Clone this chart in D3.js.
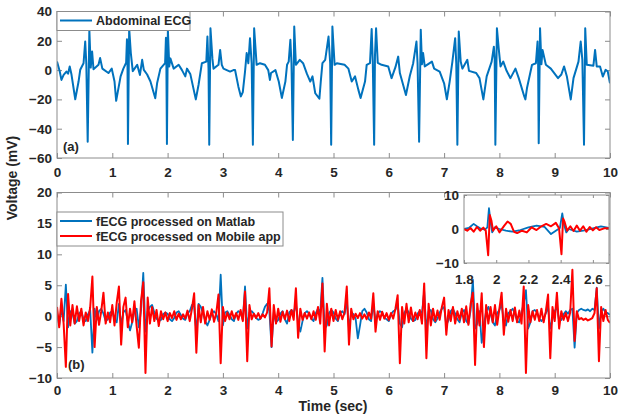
<!DOCTYPE html>
<html>
<head>
<meta charset="utf-8">
<script src="https://cdnjs.cloudflare.com/ajax/libs/d3/7.8.5/d3.min.js"></script>
<style>
body{margin:0;background:#fff;}
svg text{font-family:"Liberation Sans",Arial,sans-serif;font-weight:bold;fill:#262626;}
</style>
</head>
<body>
<svg id="chart" width="618" height="414"></svg>
<script>

// (a) abdominal ECG, [time (s), mV] vertices
let abdominal = [
[0,5.8],[0.05,-1],[0.08,-6.7],[0.12,-3.3],[0.17,-1],[0.2,-2.5],[0.23,2.5],[0.26,-2.6],[0.33,-19.9],[0.39,-7.8],[0.42,0.2],[0.48,4.7],[0.51,19.5],[0.53,4.7],[0.555,-48.9],[0.585,27.5],[0.61,1.7],[0.635,12.7],[0.66,0.6],[0.75,3.6],[0.78,8.2],[0.82,1],[0.93,-2],[0.99,1],
[1.04,-7.8],[1.07,-21],[1.15,-4.3],[1.2,1],[1.25,5],[1.265,21],[1.275,3],[1.283,-50.5],[1.305,28.6],[1.335,11.6],[1.37,-0.7],[1.45,3.6],[1.5,-3.3],[1.54,7],[1.57,0.2],[1.63,-3],[1.69,-7.8],[1.777,-19.2],[1.81,-9],[1.87,1],[1.955,4.7],[1.97,22],[1.978,4],[1.988,-50.5],
[2.005,27.5],[2.03,2.5],[2.05,8],[2.11,1],[2.2,3.6],[2.26,0],[2.32,-4.3],[2.35,1],[2.41,-2.6],[2.51,-20],[2.56,-10],[2.62,4.7],[2.7,5.8],[2.72,22.9],[2.74,1],[2.753,-51],[2.775,28.6],[2.81,8],[2.83,1],[2.92,3.6],[2.95,13.8],[2.98,3.6],
[3.01,1],[3.13,-1],[3.19,0],[3.22,0.1],[3.28,-11.3],[3.325,-18],[3.36,-15],[3.4,-1],[3.43,11.6],[3.46,4.7],[3.49,21.8],[3.52,4.7],[3.542,-51],[3.565,28.6],[3.61,3.6],[3.67,4.7],[3.76,3.6],[3.82,0],[3.85,-6.7],[3.87,-2],[3.95,0],
[4.01,-7.8],[4.066,-19],[4.13,-7.8],[4.16,3.6],[4.19,5.8],[4.22,20.7],[4.24,4.7],[4.265,-47.7],[4.29,29.7],[4.32,3.6],[4.39,7],[4.45,4.7],[4.52,-2.6],[4.58,-7.8],[4.62,-4.3],[4.67,-15.8],[4.745,-19.5],[4.77,-7.8],[4.8,4.7],[4.85,7],[4.91,22.9],[4.94,4.7],[4.958,-51],[4.98,29.7],
[5.02,3.6],[5.06,4.7],[5.2,3.6],[5.27,1],[5.33,-7.8],[5.39,-4.3],[5.45,-13.5],[5.49,-19],[5.57,-7.8],[5.6,3.6],[5.66,4.7],[5.69,28],[5.71,6],[5.735,-51],[5.75,10],[5.77,28.6],[5.8,5],[5.87,3.6],[5.99,2.5],
[6.05,-5.5],[6.12,2],[6.17,9.2],[6.2,-2],[6.31,-17],[6.38,-4],[6.44,4.5],[6.5,19.5],[6.52,5],[6.548,-48.9],[6.578,27.5],[6.6,4],[6.62,11.6],[6.65,2.5],[6.78,5.8],[6.82,1],[6.92,-1],
[7.0,-9],[7.05,-19.9],[7.1,-8],[7.15,5.8],[7.2,21.8],[7.22,4.5],[7.24,-51],[7.265,26.3],[7.3,5.8],[7.33,1],[7.37,3.6],[7.42,7],[7.45,-0.5],[7.58,-2],[7.64,-5.5],[7.71,-20],[7.77,-4.3],[7.86,5.8],[7.9,16],[7.915,7],[7.927,-51],[7.955,28.6],[7.99,13.8],
[8.02,2.5],[8.07,5.8],[8.13,-0.5],[8.2,-5.5],[8.29,1],[8.35,-5.5],[8.45,-18],[8.47,-20],[8.5,-12],[8.59,3.6],[8.66,4.7],[8.69,19.5],[8.7,5],[8.711,-50],[8.735,28.6],[8.76,4],[8.78,13.8],[8.84,3.6],[8.93,1],
[9.06,-5.5],[9.12,-3],[9.17,2.5],[9.22,-4.3],[9.29,-20],[9.34,-5.5],[9.43,5.8],[9.47,19.5],[9.5,7],[9.53,-51],[9.552,28.6],[9.58,3.6],[9.7,3],[9.73,13.8],[9.76,2.5],[9.82,2.5],[9.87,-4.4],[9.92,0.2],[9.96,-1],[10,-9]
]

// (b) fetal ECG, sampled at fs Hz (one row per second)
let fs = 25
let fecg_matlab = [
0.5,-1.5,1.2,-0.8,5.1,-1.8,0.8,0.5,-1.2,-0.8,0.4,0.8,-0.5,-0.8,0.3,1.0,-5.9,1.2,-0.6,0.8,1.2,0.4,-0.8,-0.5,0.6,
0.8,-0.6,-1.0,2.0,-1.5,0.6,1.0,-0.8,-2.3,-1.0,0.8,1.2,-1.8,1.0,7.0,-2.5,0.8,1.5,1.8,0.6,-0.4,-0.8,-0.6,0.3,0.6,
0.4,-0.5,-0.8,-0.3,0.6,0.8,0.2,-0.4,-0.6,0.5,0.8,1.8,1.5,-2.5,2.0,1.5,0.5,-0.8,-1.5,-0.6,0.5,0.8,0.3,-0.8,6.7,
-1.5,0.6,0.8,0.2,-0.5,-0.8,0.4,0.8,0.5,-0.6,4.8,-2.0,0.6,0.8,0.4,-0.3,-0.6,-0.4,0.5,1.5,2.0,0.8,-5.0,0.6,-1.0,
-0.6,0.4,0.8,-0.5,-1.2,0.6,1.0,0.5,2.0,-1.0,-2.5,-0.8,0.5,0.8,0.4,-0.4,-0.8,0.5,1.2,0.6,6.2,-2.0,-1.5,0.5,1.0,
0.6,-0.4,-0.8,0.5,0.8,0.3,2.5,-2.0,0.6,0.3,-0.4,-3.6,-1.5,0.8,1.2,0.6,-0.5,-0.8,2.0,-0.8,0.4,0.8,0.6,-0.3,-0.5,
-0.8,0.3,0.8,1.0,2.0,-1.2,-1.8,0.5,1.2,0.6,-0.4,-0.8,-0.6,0.4,0.8,0.5,4.0,-2.5,0.8,1.0,-0.5,-1.0,-0.4,0.6,1.2,
1.5,-1.5,-0.6,0.8,1.2,0.4,-0.5,-1.0,0.6,1.0,-0.8,-1.2,1.0,5.9,-2.0,-1.2,0.8,-4.3,-1.5,0.8,1.5,0.4,-1.0,-1.5,0.5,
1.0,2.0,-1.0,-1.5,0.5,0.8,1.2,0.4,-0.8,-1.0,0.6,2.0,4.2,-2.0,-1.0,0.8,1.0,0.6,-0.4,-0.8,-0.3,0.5,1.5,-2.0,-0.5,
0.8,1.5,-0.8,-0.6,0.3,0.8,0.4,1.0,1.2,-5.1,0.5,1.0,1.2,1.0,0.9,1.1,0.8,1.2,1.0,4.6,-2.0,0.8,1.2,0.6,0.5,
0.2]

let fecg_mobile = [
1.5,-1.8,2.8,-1.2,-8.2,3.6,-1.5,1.8,-1.2,1.6,-0.8,1.2,-1.5,0.6,-0.8,1.4,6.4,-5.0,1.5,-1.4,0.8,3.8,-1.2,0.6,-1.0,
1.8,-1.5,2.2,4.8,-4.6,1.5,3.0,-1.8,1.2,-1.0,2.4,-1.6,-5.1,2.5,5.5,-9.2,3.0,-1.2,1.5,-0.8,1.0,-1.6,0.8,-0.5,0.6,
-0.8,0.5,-0.3,0.8,-0.6,0.4,-0.5,0.3,-0.4,0.9,-0.8,1.2,3.7,-5.9,1.8,-1.0,1.5,-1.2,0.8,-0.6,1.1,-0.9,0.5,3.5,-7.6,
1.5,-0.8,0.6,-0.5,0.8,-0.4,0.5,-0.6,1.0,-0.8,4.0,-7.3,1.8,-0.5,0.4,-0.3,0.5,-0.4,0.3,-0.2,0.6,4.5,-4.9,1.8,-1.2,
1.2,-0.9,0.7,-0.5,0.9,-0.8,1.0,-0.6,4.5,-3.5,1.2,-0.6,0.5,-0.4,0.6,-0.5,0.8,-0.6,1.5,-1.2,5.3,-5.7,2.0,-1.5,1.2,
-0.8,1.0,-0.6,0.8,-0.5,0.6,4.8,-4.6,1.2,-0.5,0.4,-0.3,0.5,-0.4,0.3,-0.5,0.6,-0.4,3.7,-2.5,0.8,-0.6,0.7,-0.4,0.5,
-0.6,0.5,-0.4,1.2,3.4,-7.6,1.5,-1.2,2.0,-1.0,1.4,-0.8,0.6,-0.5,1.0,-1.2,5.3,-6.8,2.0,-1.5,1.2,-0.8,0.9,-0.6,1.5,
3.0,-3.0,1.0,-0.8,1.5,-1.2,0.8,-0.6,1.2,-1.0,1.6,-1.4,2.0,3.8,-7.9,2.0,-1.5,3.7,-5.0,1.8,-1.2,1.5,-1.0,1.8,-1.4,
1.2,3.8,-3.0,1.2,-0.9,1.0,-0.8,1.4,-1.0,0.9,-1.2,4.8,-9.2,1.8,-1.0,0.8,-0.6,1.0,-0.8,1.2,-1.0,0.8,3.5,-6.8,1.5,
-0.8,3.8,-2.0,0.8,-0.6,0.5,-0.8,0.6,7.5,-4.0,0.8,-0.5,-0.3,-0.6,-0.4,-0.7,-0.5,-0.3,0.5,4.5,-7.3,1.5,-0.8,1.0,-0.6,
-1.1]

// zoomed inset 1.8 - 2.7 s
let inset_matlab = [
[1.8,0],[1.83,0.3],[1.86,1.5],[1.88,0.8],[1.9,0.2],[1.93,-0.2],[1.945,0.5],[1.955,6.1],[1.965,2],[1.975,-1],[1.99,0.5],[2.02,0],[2.06,-0.5],[2.1,-0.8],[2.15,-0.3],[2.2,0.5],[2.25,1.0],[2.3,0.6],[2.34,-1.5],[2.37,-0.5],[2.395,0.3],[2.41,4.6],[2.42,1.5],[2.435,-1],[2.45,0],[2.5,-0.8],[2.55,-0.4],[2.6,0.2],[2.65,0.8],[2.7,0.3]
]
let inset_mobile = [
[1.8,0],[1.82,-0.5],[1.84,0.3],[1.86,-0.8],[1.88,0.6],[1.9,-0.5],[1.92,0.4],[1.935,-0.5],[1.95,-7.7],[1.96,4.1],[1.97,2.5],[1.98,-0.5],[2.0,0.8],[2.02,-1.0],[2.05,1.0],[2.07,2.2],[2.09,1.5],[2.11,-0.8],[2.13,-1.2],[2.16,-0.5],[2.19,-1.0],[2.22,0.5],[2.25,-0.3],[2.28,0.8],[2.31,1.5],[2.34,0.8],[2.37,1.8],[2.39,0.2],[2.405,-7.4],[2.415,3.1],[2.425,2],[2.44,-0.5],[2.46,0.8],[2.48,-0.6],[2.5,1.0],[2.52,-0.5],[2.54,0.8],[2.56,-0.8],[2.58,0.6],[2.6,-0.4],[2.62,0.5],[2.64,-0.3],[2.67,0.2],[2.7,0.2]
]

let time_ticks = [0,1,2,3,4,5,6,7,8,9,10]
let volt_ticks_a = [-60,-40,-20,0,20,40]
let volt_ticks_b = [-10,-5,0,5,10,15,20]
let inset_time_ticks = [1.8,2,2.2,2.4,2.6]
let inset_volt_ticks = [-10,0,10]
let legend_a = ['Abdominal ECG']
let legend_b = ['fECG processed on Matlab','fECG processed on Mobile app']

let blue = '#0072BD'
let red = '#FF0000'
let box_color = '#8c8c8c'

let svg = d3.select('#chart')

let matlab_pts = fecg_matlab.map((v,i) => [i/fs, v])
let mobile_pts = fecg_mobile.map((v,i) => [i/fs, v])


function drawPanel(id, box, xdom, ydom, xticks, yticks, opts){

let x = d3.scaleLinear().domain(xdom).range([box.l, box.r])
let y = d3.scaleLinear().domain(ydom).range([box.b, box.t])

let g = svg.append('g').attr('id', id)

g.append('rect')
.attr('x', box.l).attr('y', box.t)
.attr('width', box.r - box.l).attr('height', box.b - box.t)
.attr('fill', 'white')

g.append('clipPath').attr('id', 'clip_' + id)
.append('rect')
.attr('x', box.l).attr('y', box.t)
.attr('width', box.r - box.l).attr('height', box.b - box.t)

let fmt = opts.fmt || (d => d)

let ax = [
  d3.axisBottom(x).tickValues(xticks).tickFormat(fmt).tickSize(-opts.tick).tickSizeOuter(0).tickPadding(opts.xpad),
  d3.axisTop(x).tickValues(xticks).tickFormat('').tickSize(-opts.tick).tickSizeOuter(0),
  d3.axisLeft(y).tickValues(yticks).tickSize(-opts.tick).tickSizeOuter(0).tickPadding(opts.ypad),
  d3.axisRight(y).tickValues(yticks).tickFormat('').tickSize(-opts.tick).tickSizeOuter(0)
]
let tr = ['translate(0,' + box.b + ')', 'translate(0,' + box.t + ')', 'translate(' + box.l + ',0)', 'translate(' + box.r + ',0)']

ax.forEach((a, i) => {
  let ag = g.append('g').attr('transform', tr[i]).call(a)
  ag.select('.domain').remove()
  ag.selectAll('line').attr('stroke', box_color)
  ag.selectAll('text')
  .style('font-family', '"Liberation Sans", Arial, sans-serif')
  .style('font-weight', 'bold')
  .style('font-size', opts.fs + 'px')
  .attr('fill', '#262626')
})

let lines = g.append('g').attr('clip-path', 'url(#clip_' + id + ')')

let line = d3.line().x(d => x(d[0])).y(d => y(d[1]))

opts.series.forEach(s => {
  lines.append('path')
  .datum(s.data)
  .attr('fill', 'none')
  .attr('stroke', s.color)
  .attr('stroke-width', s.width)
  .attr('stroke-linejoin', 'round')
  .attr('d', line)
})

g.append('rect')
.attr('x', box.l).attr('y', box.t)
.attr('width', box.r - box.l).attr('height', box.b - box.t)
.attr('fill', 'none')
.attr('stroke', box_color)
.attr('stroke-width', 1)

return g
}


function drawLegend(g, x0, y0, w, names, colors){
let rowh = 15
g.append('rect')
.attr('x', x0).attr('y', y0)
.attr('width', w).attr('height', rowh * names.length + 4)
.attr('fill', 'white')
.attr('stroke', box_color)

names.forEach((n, i) => {
  let cy = y0 + 9 + i * rowh
  g.append('line')
  .attr('x1', x0 + 3).attr('x2', x0 + 35)
  .attr('y1', cy).attr('y2', cy)
  .attr('stroke', colors[i]).attr('stroke-width', 2)
  g.append('text')
  .attr('x', x0 + 39).attr('y', cy + 4.5)
  .style('font-size', '12.5px')
  .text(n)
})
}


// panel (a)
let ga = drawPanel('panel_a', {l:57, r:610, t:11.5, b:158}, [0,10], [-60,40], time_ticks, volt_ticks_a,
  {tick:5, xpad:9, ypad:5, fs:13.5, series:[{data:abdominal, color:blue, width:2}]})

drawLegend(ga, 57, 11.5, 133, legend_a, [blue])

ga.append('text').attr('x', 63).attr('y', 151).style('font-size', '13px').text('(a)')


// panel (b)
let gb = drawPanel('panel_b', {l:57, r:610, t:192.5, b:378}, [0,10], [-10,20], time_ticks, volt_ticks_b,
  {tick:5, xpad:7, ypad:5, fs:13.5, series:[
    {data:matlab_pts, color:blue, width:1.8},
    {data:mobile_pts, color:red, width:2}]})

drawLegend(gb, 57, 212, 226, legend_b, [blue, red])

gb.append('text').attr('x', 68).attr('y', 369).style('font-size', '13px').text('(b)')


// inset
drawPanel('inset', {l:464, r:609, t:195, b:263}, [1.8,2.7], [-10,10], inset_time_ticks, inset_volt_ticks,
  {tick:3, xpad:11, ypad:5, fs:13.5, fmt:d3.format('~g'), series:[
    {data:inset_matlab, color:blue, width:1.8},
    {data:inset_mobile, color:red, width:2}]})


// axis titles
svg.append('text')
.attr('transform', 'translate(17,178) rotate(-90)')
.attr('text-anchor', 'middle')
.style('font-size', '14px')
.text('Voltage (mV)')

svg.append('text')
.attr('x', 333).attr('y', 411)
.attr('text-anchor', 'middle')
.style('font-size', '14px')
.text('Time (sec)')

</script>
</body>
</html>
